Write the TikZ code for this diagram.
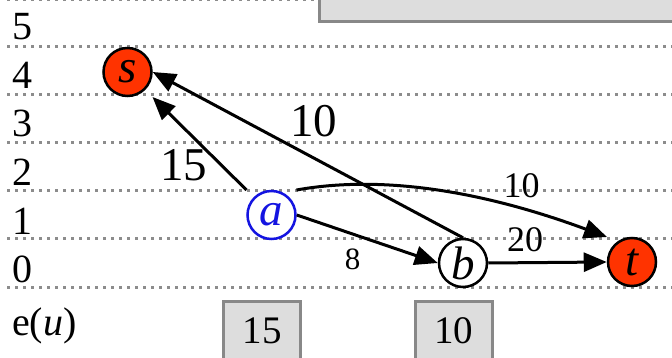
\documentclass[tikz,border=0pt]{standalone}
\usepackage{fontspec}
\setmainfont{Liberation Serif}
\usetikzlibrary{arrows.meta}
\definecolor{nodered}{RGB}{255,51,0}
\definecolor{nodeblue}{RGB}{20,20,225}
\definecolor{boxfill}{RGB}{221,221,221}
\definecolor{boxline}{RGB}{136,136,136}
\definecolor{dotgray}{RGB}{140,140,140}
\begin{document}
\begin{tikzpicture}[x=1pt,y=-1pt,
  level/.style={dotgray, line width=3pt, dash pattern=on 3pt off 5pt},
  rowlab/.style={anchor=base west, inner sep=0, font=\fontsize{40}{42}\selectfont},
  vert/.style={circle, minimum size=48pt, inner sep=0, line width=2.5pt, font=\fontsize{47}{49}\selectfont\itshape},
  flow/.style={line width=3pt, -{Triangle[length=23pt,width=19pt]}},
  biglab/.style={inner sep=0, font=\fontsize{47}{49}\selectfont},
  midlab/.style={inner sep=0, font=\fontsize{36}{38}\selectfont},
  smalllab/.style={inner sep=0, font=\fontsize{31}{33}\selectfont},
  excess/.style={draw=boxline, fill=boxfill, line width=3pt, anchor=north, minimum width=77pt, inner xsep=0, inner ysep=0, outer sep=0, text height=41.5pt, text depth=30pt, font=\fontsize{39}{41}\selectfont}
]
\useasboundingbox (0,0) rectangle (672,358);

% level lines
\foreach \y in {0,47,95,143,191,239,287}
  \draw[level] (7,\y) -- (672,\y);

% top-right box
\draw[boxline, fill=boxfill, line width=3pt] (319.5,-10) rectangle (690,21.5);

% row labels
\node[rowlab] (l5) at (12,40) {5};
\node[rowlab] (l4) at (12,88.5) {4};
\node[rowlab] (l3) at (12,137) {3};
\node[rowlab] (l2) at (12,185.5) {2};
\node[rowlab] (l1) at (12,234) {1};
\node[rowlab] (l0) at (12,282.5) {0};
\node[rowlab] (eu) at (12,335) {e(\textit{u})};

% vertices
\node[vert, draw=black, fill=nodered] (s) at (127.5,72) {s};
\node[vert, draw=nodeblue, text=nodeblue, fill=white] (a) at (271.5,215) {a};
\node[vert, draw=black, fill=white] (b) at (463,263) {b};
\node[vert, draw=black, fill=nodered] (t) at (632,262) {t};

\coordinate (aNW) at ([shift={(-25pt,25pt)}]a.center);
\coordinate (aNE) at ([shift={(25pt,25pt)}]a.center);
\coordinate (sSE) at ([shift={(25pt,-25pt)}]s.center);
\coordinate (tNW) at ([shift={(-25pt,25pt)}]t.center);

% edges
\draw[flow] (aNW) -- (sSE);
\draw[flow] (b.north) -- (s.east);
\draw[flow] (aNE) .. controls (380,175) and (480,190) .. (tNW);
\draw[flow] (a.east) -- (b.west);
\draw[flow] (b.east) -- (t.west);

% edge labels
\node[biglab] (l15) at (183.5,165) {15};
\node[biglab] (l10a) at (313.5,121) {10};
\node[midlab] (l10b) at (521.5,185.5) {10};
\node[midlab] (l20) at (525,239.5) {20};
\node[smalllab] (l8) at (352.5,259) {8};

% excess boxes
\node[excess] (e15) at (262,301.5) {15};
\node[excess] (e10) at (453.5,301.5) {10};
\end{tikzpicture}
\end{document}
